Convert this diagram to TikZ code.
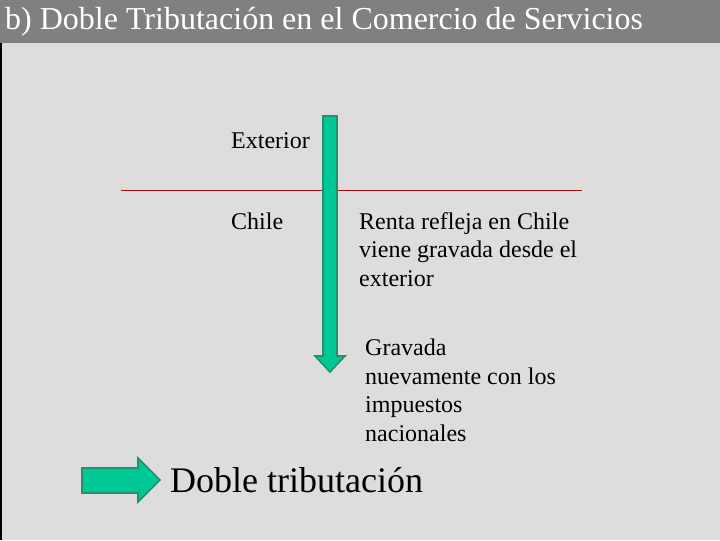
\documentclass[tikz,border=0pt]{standalone}
\usepackage{fontspec}
\setmainfont{Liberation Serif}
\usetikzlibrary{positioning}
\definecolor{slideBg}{HTML}{DDDDDD}
\definecolor{barGray}{HTML}{808080}
\definecolor{arrowF}{HTML}{00C895}
\definecolor{arrowS}{HTML}{22916F}
\definecolor{lineRed}{HTML}{A01010}
\tikzset{
  blockarrow/.style={fill=arrowF, draw=arrowS, line width=1.6pt, line join=miter},
  txt/.style={anchor=west, inner sep=0pt, align=left,
    font=\fontsize{24}{28.5}\selectfont},
  bigtxt/.style={anchor=west, inner sep=0pt, font=\fontsize{36}{40}\selectfont},
  title/.style={anchor=west, inner sep=0pt, text=white,
    font=\fontsize{32}{36}\selectfont},
}
\begin{document}
\begin{tikzpicture}[x=1pt, y=-1pt]

  % ---- Slide background and title bar --------------------------------------
  \fill[slideBg] (0,0) rectangle (720,540);
  \fill[barGray] (0,0) rectangle (720,43);
  \draw[black, line width=1.5pt] (1,43) -- (1,540);
  \node[title] (head) at (5,22) {b) Doble Tributación en el Comercio de Servicios};

  % ---- Border between exterior and Chile -----------------------------------
  \coordinate (bl) at (121,190);
  \coordinate (br) at (582,190);
  \draw[lineRed, line width=0.9pt] (bl) -- (br);

  \node[txt] (ext)   at (231,141) {Exterior};
  \node[txt] (chile) at (231,221) {Chile};

  % ---- Income flowing down from abroad -------------------------------------
  \filldraw[blockarrow] (323,116) -- (337,116) -- (337,356) -- (345,356)
    -- (330,372) -- (315,356) -- (323,356) -- cycle;

  \node[txt, anchor=north west] (renta) at (359,212)
    {Renta refleja en Chile\\viene gravada desde el\\exterior};
  \node[txt, anchor=north west] (grav)  at (365,339)
    {Gravada\\nuevamente con los\\impuestos\\nacionales};

  % ---- Result ----------------------------------------------------------------
  \filldraw[blockarrow] (82,468) -- (138,468) -- (138,458) -- (160,480)
    -- (138,502) -- (138,493) -- (82,493) -- cycle;
  \node[bigtxt] (doble) at (170,480) {Doble tributación};

\end{tikzpicture}
\end{document}
